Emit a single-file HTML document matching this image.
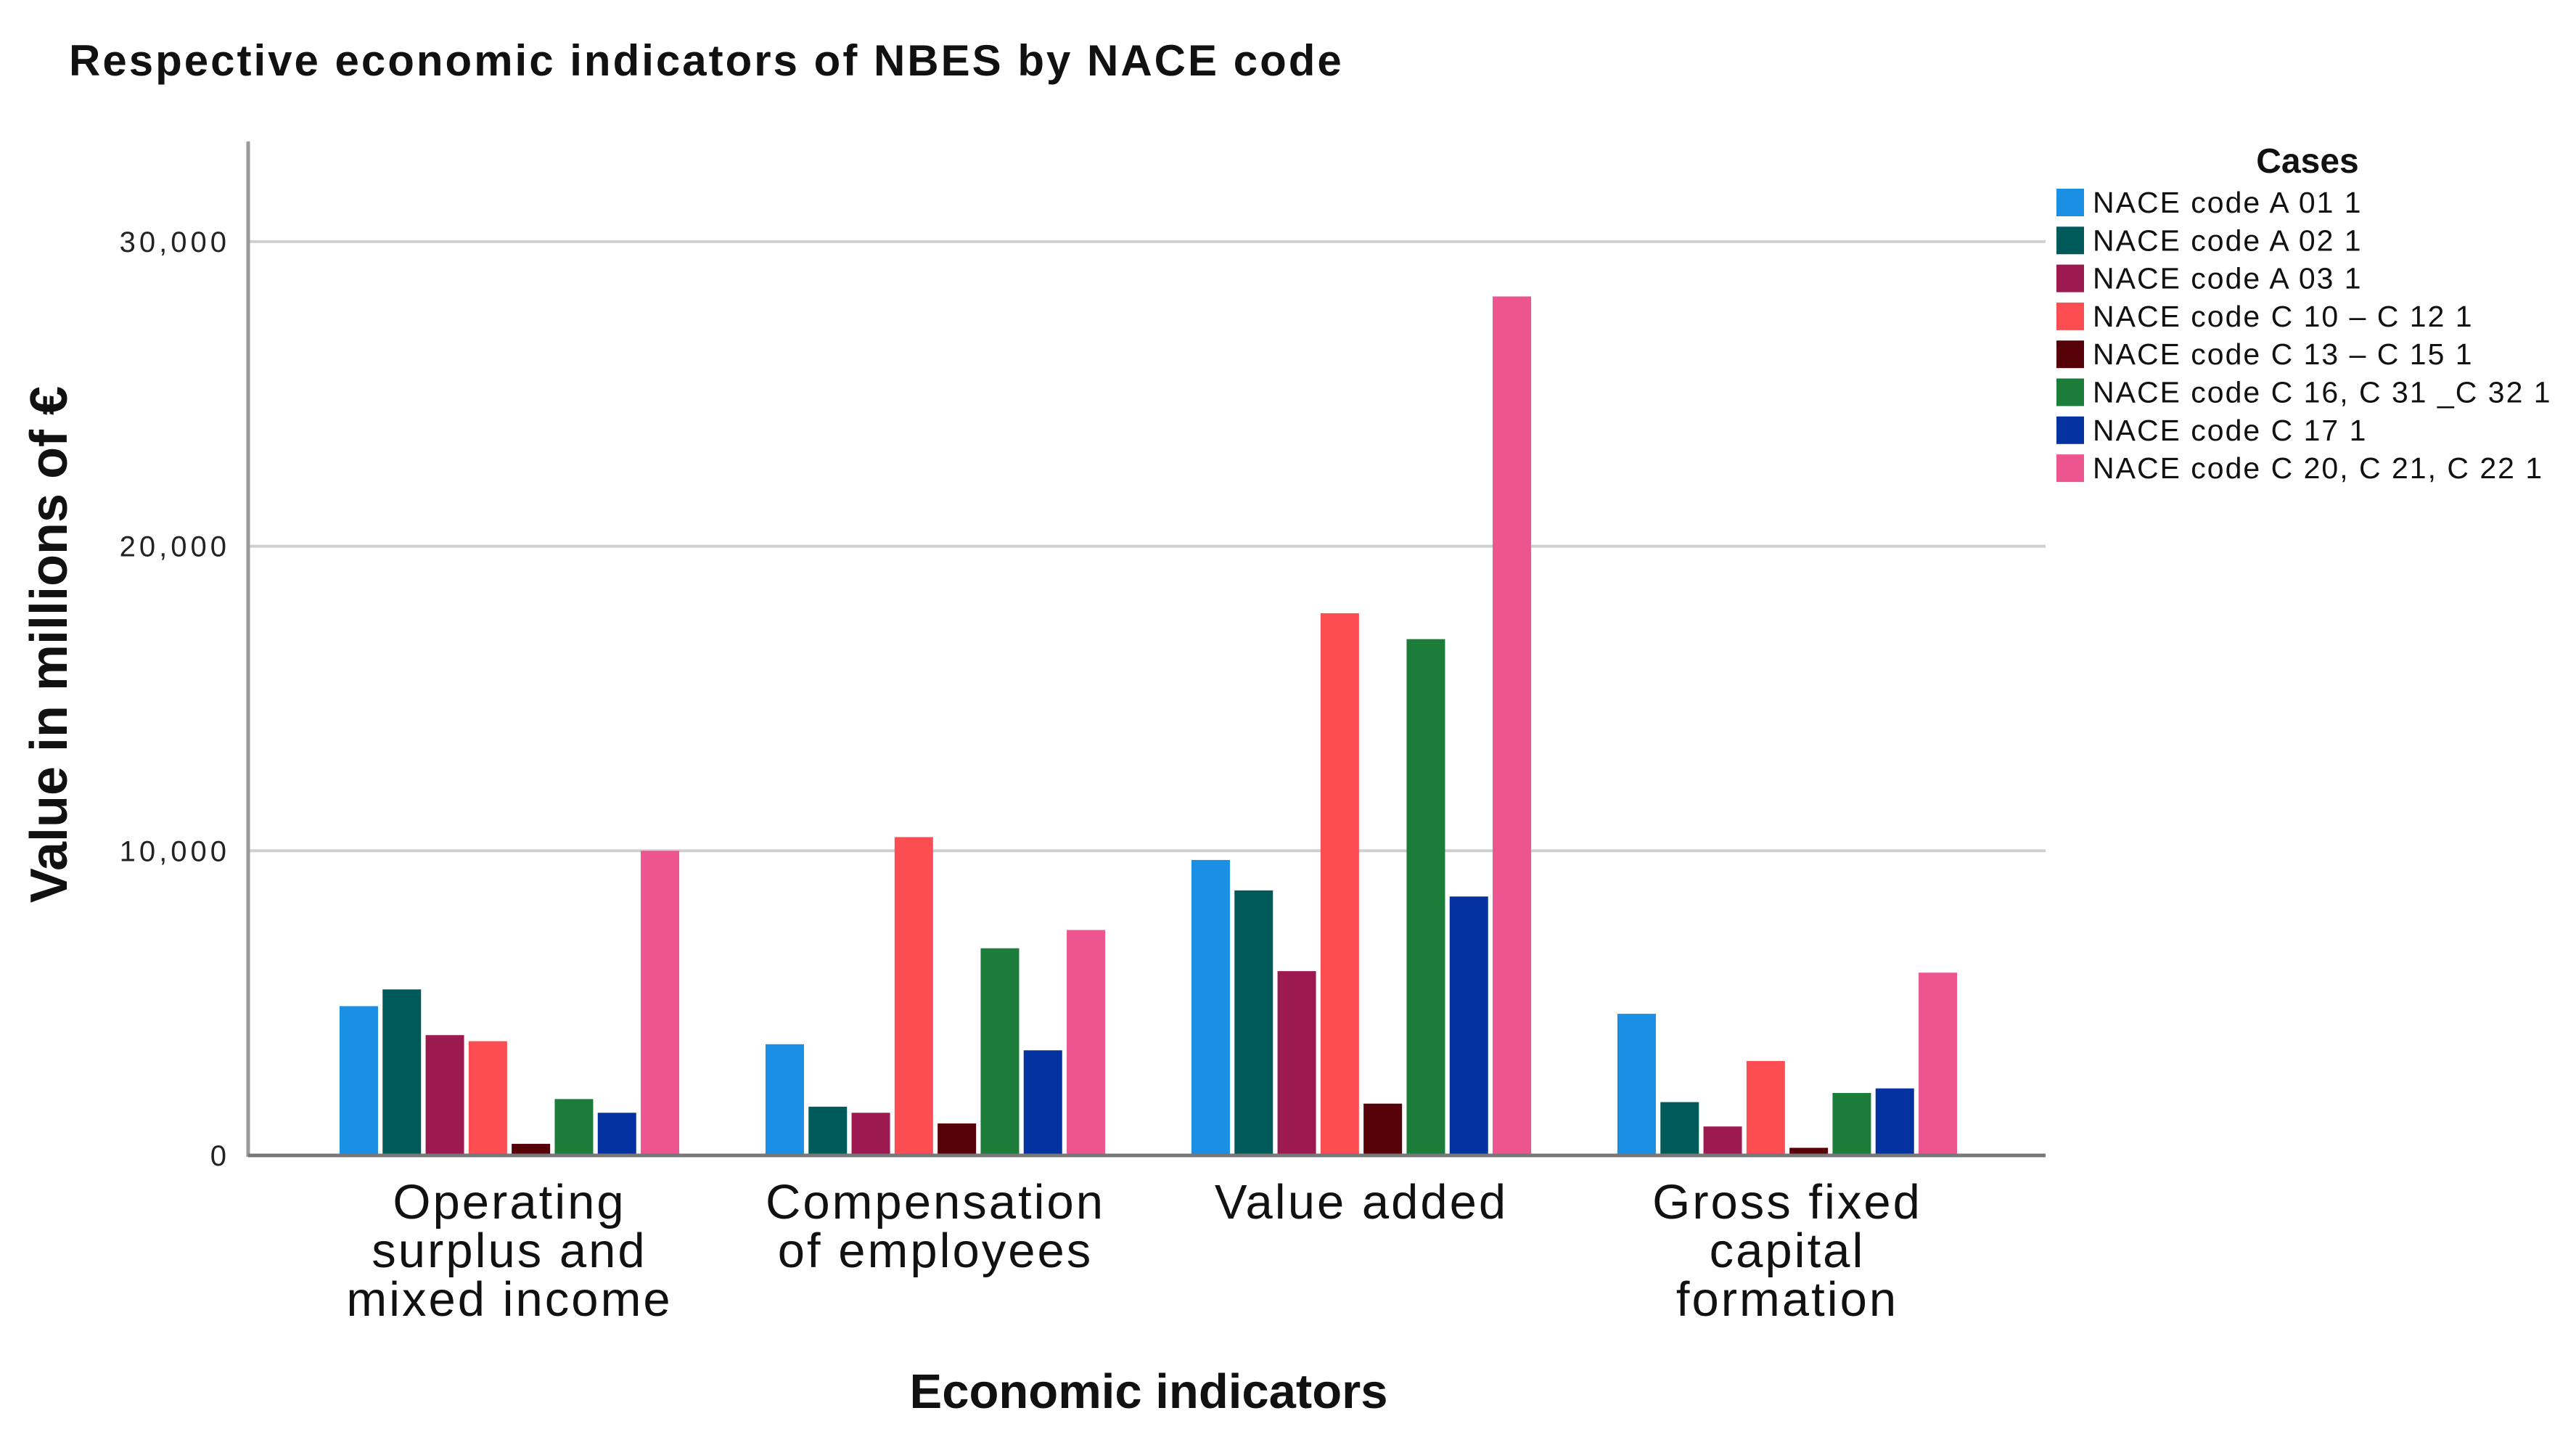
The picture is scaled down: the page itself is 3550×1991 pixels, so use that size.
<!DOCTYPE html>
<html><head><meta charset="utf-8"><style>
body{margin:0;background:#fff;}
svg{display:block;font-family:"Liberation Sans",sans-serif;}
</style></head><body>
<svg id="chart" width="3550" height="1991" viewBox="0 0 3550 1991">
<text x="95" y="104" font-size="60" font-weight="bold" letter-spacing="3" fill="#111">Respective economic indicators of NBES by NACE code</text>
<g id="grid"></g>
<g id="bars"></g>
<g id="axes"></g>
<g id="legend"></g>
<text transform="translate(92,888) rotate(-90)" text-anchor="middle" font-size="72" font-weight="bold" fill="#111">Value in millions of €</text>
<text x="1583" y="1940" text-anchor="middle" font-size="67" font-weight="bold" fill="#111">Economic indicators</text>
</svg>
<script>
const categories=[["Operating","surplus and","mixed income"],["Compensation","of employees"],["Value added"],["Gross fixed","capital","formation"]];
const seriesNames=["NACE code A 01 1","NACE code A 02 1","NACE code A 03 1","NACE code C 10 – C 12 1","NACE code C 13 – C 15 1","NACE code C 16, C 31 _C 32 1","NACE code C 17 1","NACE code C 20, C 21, C 22 1"];
const colors=["#1a8fe3","#005a5a","#9c1a50","#fb4d52","#560008","#1c7c3a","#0432a0","#ec5590"];
const a011=[4900,3650,9700,4650];
const a021=[5450,1600,8700,1750];
const a031=[3950,1400,6050,950];
const c1012=[3750,10450,17800,3100];
const c1315=[380,1050,1700,250];
const c1632=[1850,6800,16950,2050];
const c171=[1400,3450,8500,2200];
const c2022=[10000,7400,28200,6000];
const series=[a011,a021,a031,c1012,c1315,c1632,c171,c2022];
const yTicks=[0,10000,20000,30000];
const yTickLabels=["0","10,000","20,000","30,000"];

const NS="http://www.w3.org/2000/svg";
const X0=342,X1=2819,Y0=1592,PX=0.04197;
function y(v){return Y0-v*PX;}
function groupCenter(i){return 702+i*587;}
function mk(tag,attrs,parent){const e=document.createElementNS(NS,tag);for(const k in attrs)e.setAttribute(k,attrs[k]);parent.appendChild(e);return e;}
const grid=document.getElementById('grid'),bars=document.getElementById('bars'),axes=document.getElementById('axes'),legend=document.getElementById('legend');
yTicks.forEach((t,i)=>{
  if(t>0){const l=mk('line',{x1:X0,x2:X1,y1:y(t),y2:y(t),stroke:'#cfcfcf','stroke-width':4},grid);
  
  }
  const tx=mk('text',{x:317,y:y(t)+14,'text-anchor':'end','font-size':40,fill:'#222','letter-spacing':'5'},axes);
  tx.textContent=yTickLabels[i];
  
  
});
const ax=mk('line',{x1:X0,x2:X0,y1:195,y2:Y0+2,stroke:'#999','stroke-width':5},axes);


const bx=mk('line',{x1:X0,x2:X1,y1:Y0,y2:Y0,stroke:'#777','stroke-width':5},axes);


const step=59.3,bw=53;
categories.forEach((cat,ci)=>{
  const c=groupCenter(ci);
  series.forEach((s,si)=>{
    const x=c+(si-3.5)*step-bw/2;
    const r=mk('rect',{x:x,y:y(s[ci]),width:bw,height:s[ci]*PX,fill:colors[si]},bars);
    
    
  });
  cat.forEach((line,li)=>{
    const t=mk('text',{x:c,y:1679+li*67,'text-anchor':'middle','font-size':67,'letter-spacing':3,fill:'#111'},axes);
    t.textContent=line;
    
    
  });
});
const lt=mk('text',{x:3180,y:238,'text-anchor':'middle','font-size':48,'font-weight':'bold',fill:'#111'},legend);
lt.textContent="Cases";


seriesNames.forEach((n,i)=>{
  const cy=279+i*52.3;
  const sw=mk('rect',{x:2834,y:cy-19,width:38,height:38,fill:colors[i]},legend);
  
  
  const t=mk('text',{x:2884,y:cy+14,'font-size':41,'letter-spacing':2,fill:'#111'},legend);
  t.textContent=n;
  
  
});
</script>
</body></html>
